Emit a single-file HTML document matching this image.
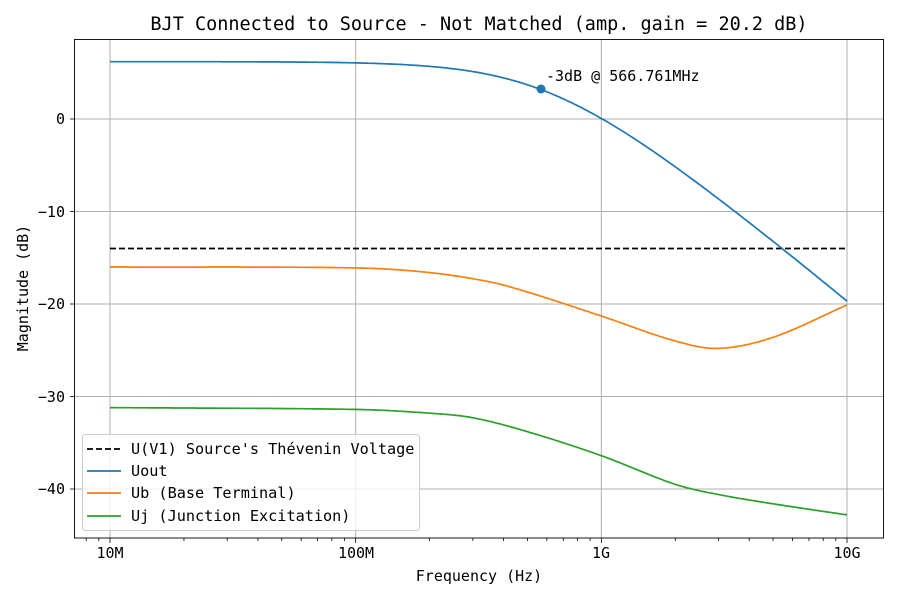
<!DOCTYPE html>
<html><head><meta charset="utf-8"><style>
html,body{margin:0;padding:0;background:#fff;}
svg text{font-family:"DejaVu Sans Mono","Liberation Mono",monospace;fill:#000;}
</style></head><body>
<svg id="s" width="900" height="600" xmlns="http://www.w3.org/2000/svg">
<rect width="900" height="600" fill="#fff"/>
<g id="grid" stroke="#b0b0b0" stroke-width="1"></g>
<g id="ticks" stroke="#000" stroke-width="0.8"></g>
<path id="dash" d="M110,248.5 L847,248.5" stroke="#000" stroke-width="1.7" stroke-dasharray="6,3" fill="none"/>
<path id="uout" stroke="#1f77b4" stroke-width="1.7" fill="none"/>
<path id="ub" stroke="#ff7f0e" stroke-width="1.7" fill="none"/>
<path id="uj" stroke="#2ca02c" stroke-width="1.7" fill="none"/>
<circle cx="541" cy="89" r="4.5" fill="#1f77b4"/>
<text x="546" y="81" font-size="15">-3dB @ 566.761MHz</text>
<rect x="74.5" y="39.5" width="809" height="498.5" fill="none" stroke="#000" stroke-width="0.9"/>
<text x="479" y="30" font-size="18.5" text-anchor="middle">BJT Connected to Source - Not Matched (amp. gain = 20.2 dB)</text>
<text x="110" y="558" font-size="15" text-anchor="middle">10M</text>
<text x="356" y="558" font-size="15" text-anchor="middle">100M</text>
<text x="601" y="558" font-size="15" text-anchor="middle">1G</text>
<text x="847" y="558" font-size="15" text-anchor="middle">10G</text>
<text x="65" y="124" font-size="15" text-anchor="end">0</text>
<text x="65" y="217" font-size="15" text-anchor="end">−10</text>
<text x="65" y="309" font-size="15" text-anchor="end">−20</text>
<text x="65" y="402" font-size="15" text-anchor="end">−30</text>
<text x="65" y="494" font-size="15" text-anchor="end">−40</text>
<text x="479" y="581" font-size="15" text-anchor="middle">Frequency (Hz)</text>
<text transform="translate(28,288) rotate(-90)" font-size="15" text-anchor="middle">Magnitude (dB)</text>
<rect x="82.5" y="434.5" width="337" height="96" rx="3" fill="#fff" fill-opacity="0.8" stroke="#ccc"/>
<path d="M87,449 L121,449" stroke="#000" stroke-width="1.7" stroke-dasharray="6,3"/>
<path d="M87,471 L121,471" stroke="#1f77b4" stroke-width="1.7"/>
<path d="M87,493 L121,493" stroke="#ff7f0e" stroke-width="1.7"/>
<path d="M87,516 L121,516" stroke="#2ca02c" stroke-width="1.7"/>
<text x="131" y="454" font-size="15.2">U(V1) Source's Thévenin Voltage</text>
<text x="131" y="476" font-size="15.2">Uout</text>
<text x="131" y="498" font-size="15.2">Ub (Base Terminal)</text>
<text x="131" y="521" font-size="15.2">Uj (Junction Excitation)</text>
</svg>
<script>
var X=function(l){return 110+(l-7)*245.67;};
var Y=function(v){return 119-9.25*v;};
var grid=document.getElementById('grid'),ticks=document.getElementById('ticks');
function ln(p,x1,y1,x2,y2){var e=document.createElementNS('http://www.w3.org/2000/svg','line');e.setAttribute('x1',x1);e.setAttribute('y1',y1);e.setAttribute('x2',x2);e.setAttribute('y2',y2);p.appendChild(e);}
for(var d=7;d<=10;d++){var x=X(d);ln(grid,x,40,x,538);ln(ticks,x,538,x,543);}
for(var d=6;d<=10;d++)for(var k=2;k<10;k++){var x=X(d+Math.log10(k));if(x>75&&x<883)ln(ticks,x,538,x,541);}
for(var v=0;v>=-40;v-=10){var y=Y(v);ln(grid,75,y,883,y);ln(ticks,70,y,75,y);}
function path(f){var s='';for(var i=0;i<=300;i++){var l=7+3*i/300;s+=(i?'L':'M')+X(l).toFixed(1)+','+Y(f(l)).toFixed(1);}return s;}
var fc=566.761e6;
document.getElementById('uout').setAttribute('d',path(function(l){var r=Math.pow(10,l)/fc;var e=Math.max(0,l-9);return 6.2-10*Math.log10(1+r*r)-0.95*e*e;}));
function interp(pts){return function(l){for(var i=0;i<pts.length-1;i++){if(l<=pts[i+1][0]){var p0=pts[Math.max(0,i-1)],p1=pts[i],p2=pts[i+1],p3=pts[Math.min(pts.length-1,i+2)];var t=(l-p1[0])/(p2[0]-p1[0]);var m1=(p2[1]-p0[1])/(p2[0]-p0[0])*(p2[0]-p1[0]);var m2=(p3[1]-p1[1])/(p3[0]-p1[0])*(p2[0]-p1[0]);var t2=t*t,t3=t2*t;return (2*t3-3*t2+1)*p1[1]+(t3-2*t2+t)*m1+(-2*t3+3*t2)*p2[1]+(t3-t2)*m2;}}return pts[pts.length-1][1];};}
var L=Math.log10;
document.getElementById('ub').setAttribute('d',path(interp([[7,-16],[8,-16.1],[L(2e8),-16.6],[L(3.5e8),-17.6],[L(5e8),-18.7],[9,-21.3],[L(2e9),-24],[L(3e9),-24.8],[L(5e9),-23.6],[10,-20.1]])));
document.getElementById('uj').setAttribute('d',path(interp([[7,-31.2],[8,-31.4],[L(2e8),-31.8],[L(3e8),-32.3],[L(5e8),-33.8],[9,-36.4],[L(2e9),-39.5],[L(3e9),-40.6],[L(5e9),-41.6],[10,-42.8]])));
</script>
</body></html>
